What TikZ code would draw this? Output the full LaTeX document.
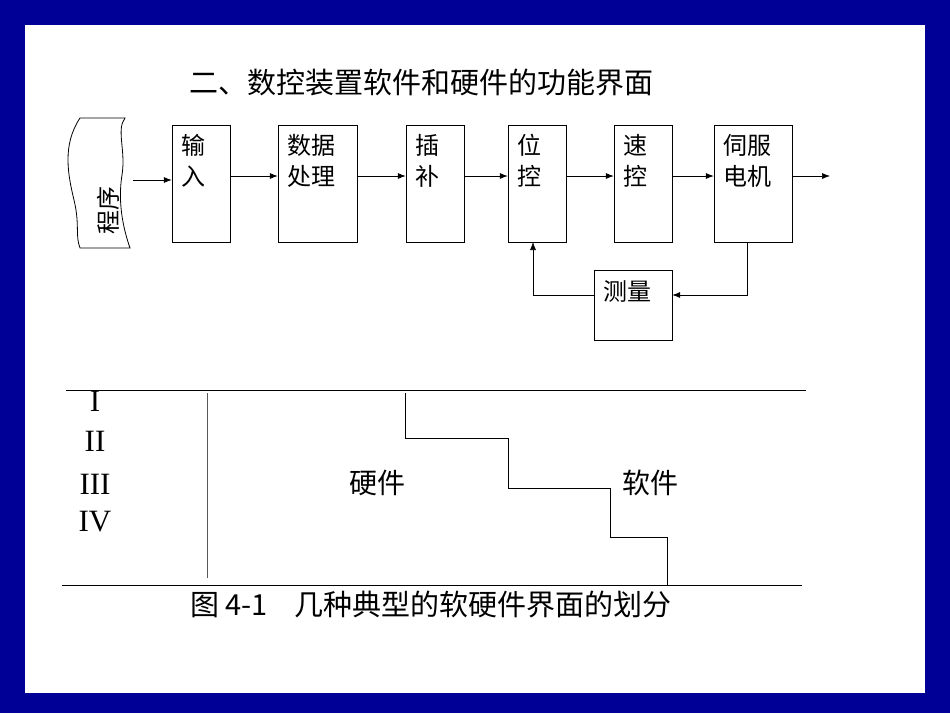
\documentclass[tikz,border=0pt]{standalone}
\usepackage{fontspec}
\usetikzlibrary{arrows.meta}
\newfontfamily\cjk{Noto Sans CJK SC}
\setmainfont{Liberation Serif}
\begin{document}
\begin{tikzpicture}[x=1pt,y=-1pt,
  blk/.style={draw,line width=0.8pt},
  lbl/.style={font=\cjk\fontsize{24}{31}\selectfont,align=left,anchor=north west,inner sep=0pt},
  arr/.style={-{Latex[length=8pt,width=6pt]},line width=0.7pt},
  ln/.style={line width=0.8pt}]
\fill[fill={rgb,255:red,0;green,0;blue,150}] (0,0) rectangle (950,713);
\fill[white] (25,25) rectangle (925,693);
\useasboundingbox (0,0) rectangle (950,713);
\node[font=\cjk\fontsize{29}{34}\selectfont] (title) at (421,83) {二、数控装置软件和硬件的功能界面};
% tape
\draw[blk] (80,118) .. controls (62,145) and (68,175) .. (74,200) .. controls (80,225) and (75,235) .. (80,248)
  -- (130,248) .. controls (122,225) and (118,200) .. (122,175) .. controls (126,150) and (116,130) .. (125,118) -- cycle;
\node[font=\cjk\fontsize{24}{28}\selectfont,rotate=90] (prog) at (108,210) {程序};
\coordinate (tape) at (133,180);
\foreach \n/\a/\b/\t in {in/172/230/{输\\入},dp/278/357/{数据\\处理},ip/406/464/{插\\补},pc/508/566/{位\\控},sc/614/672/{速\\控},mo/714/792/{伺服\\电机}}{
  \draw[blk] (\a,125) rectangle (\b,242);
  \node[draw=none,minimum width={(\b-\a)*1pt},minimum height=117pt,inner sep=0pt] (\n) at ({(\a+\b)/2},183.5) {};
  \node[lbl] at (\a+9,134) {\t};
}
\draw[blk] (594,270) rectangle (672,340);
\node[minimum width=78pt,minimum height=70pt,inner sep=0pt] (ms) at (633,305) {};
\node[lbl] at (603,280) {测量};
\draw[arr] (tape) -- (in.west|-tape);
\draw[arr] (in.east|-0,176) -- (dp.west|-0,176);
\draw[arr] (dp.east|-0,176) -- (ip.west|-0,176);
\draw[arr] (ip.east|-0,176) -- (pc.west|-0,176);
\draw[arr] (pc.east|-0,176) -- (sc.west|-0,176);
\draw[arr] (sc.east|-0,176) -- (mo.west|-0,176);
\coordinate (out) at (830,176);
\draw[arr] (mo.east|-0,176) -- (out);
\draw[arr] (747,242) -- (747,295) -- (ms.east|-0,295);
\draw[arr] (ms.west|-0,295) -- (533,295) -- (533,242);
% lower
\draw[ln] (66,390) -- (806,390);
\draw[ln] (62,585) -- (802,585);
\draw[line width=1pt,gray!70!black] (207,393) -- (207,578);
\draw[ln] (405,393) -- (405,438) -- (508,438) -- (508,488) -- (610,488) -- (610,537) -- (667,537) -- (667,585);
\foreach \n/\y/\t in {r1/401/I,r2/441/II,r3/484/III,r4/522/IV}
  \node[font=\fontsize{31}{34}\selectfont] (\n) at (95,\y) {\t};
\node[font=\cjk\fontsize{28}{32}\selectfont] (hw) at (377,483) {硬件};
\node[font=\cjk\fontsize{28}{32}\selectfont] (sw) at (650,483) {软件};
\node[font=\cjk\fontsize{29}{34}\selectfont] (cap) at (431,604) {图 4-1\hspace{0.7em} 几种典型的软硬件界面的划分};
\end{tikzpicture}
\end{document}
